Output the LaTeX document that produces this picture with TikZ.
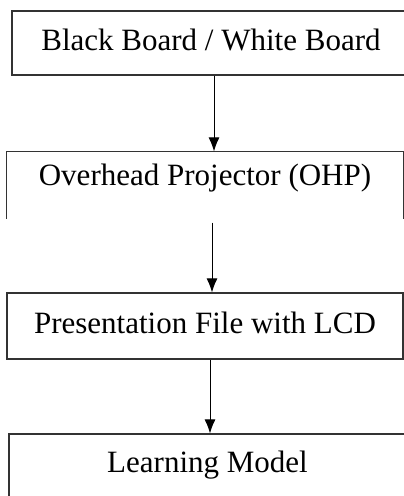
\documentclass[tikz,border=0pt]{standalone}
\usepackage{fontspec}
\setmainfont{Liberation Serif}
\usetikzlibrary{arrows.meta}
\tikzset{box/.style={draw=black!80,line width=1.2pt,inner sep=0pt,minimum width=396pt,minimum height=66pt,text height=21pt,text depth=7pt,font=\fontsize{31}{31}\selectfont}}
\begin{document}
\begin{tikzpicture}[x=1pt,y=-1pt,>={Latex[length=14pt,width=11pt]}]
\useasboundingbox (0,0) rectangle (404,496);
\clip (0,0) rectangle (404,496);
\node[box,minimum width=398pt,minimum height=64pt] (board) at (211,43){Black Board / White Board};
\node[box,draw=none,text depth=21pt] (ohp) at (205,185){Overhead Projector (OHP)};
\draw[black!80,line width=1.2pt] (ohp.south west)--(ohp.north west)--(ohp.north east)--(ohp.south east);
\node[box] (lcd) at (205,326){Presentation File with LCD};
\node[box,minimum width=397pt,minimum height=76pt,text depth=21pt] (model) at (207.5,472){Learning Model};
\draw[->,line width=1pt] ([xshift=3pt]board.south)--([xshift=3pt]board.south|-ohp.north);
\draw[->,line width=1pt] ([xshift=7pt,yshift=-4pt]ohp.south)--([xshift=7pt]ohp.south|-lcd.north);
\draw[->,line width=1pt] ([xshift=5pt]lcd.south)--([xshift=5pt]lcd.south|-model.north);
\end{tikzpicture}
\end{document}
